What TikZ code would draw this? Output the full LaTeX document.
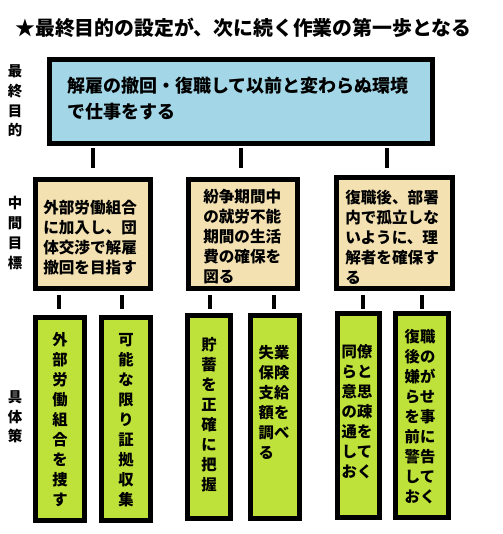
\documentclass[tikz,border=0pt]{standalone}
\usepackage{fontspec}
\setmainfont{Noto Sans CJK JP}
\definecolor{topc}{RGB}{163,215,232}
\definecolor{midc}{RGB}{243,225,178}
\definecolor{lowc}{RGB}{190,226,58}
\begin{document}
\begin{tikzpicture}[x=0.75pt,y=-0.75pt,
  box/.style={draw=black,line width=3.75pt,inner sep=0pt},
  topbox/.style={box,fill=topc,minimum width=287.25pt,minimum height=63pt},
  midbox/.style={box,fill=midc,minimum height=81.75pt},
  lowbox/.style={box,fill=lowc,minimum height=152.25pt},
  stub/.style={line width=3pt},
  ttl/.style={inner sep=0pt,anchor=west,font=\fontsize{14.9pt}{17pt}\selectfont\bfseries},
  toptxt/.style={inner sep=0pt,anchor=west,align=left,font=\fontsize{13.5pt}{19.5pt}\selectfont\bfseries},
  midtxt/.style={inner sep=0pt,anchor=west,align=left,font=\fontsize{11.7pt}{15pt}\selectfont\bfseries},
  lowtxt/.style={inner sep=0pt,align=center,font=\fontsize{11.5pt}{15pt}\selectfont\bfseries},
  side/.style={inner sep=0pt,align=center,font=\fontsize{10.8pt}{14.8pt}\selectfont\bfseries}
]
\useasboundingbox[fill=white] (0,0) rectangle (502,534);

\node[ttl] (title) at (15,28) {★最終目的の設定が、次に続く作業の第一歩となる};

% side labels
\node[side] (l1) at (15,101) {最\\終\\目\\的};
\node[side] (l2) at (15,233) {中\\間\\目\\標};
\node[side] (l3) at (15,417) {具\\体\\策};

% top box
\node[topbox] (top) at (241,101.5) {};
\node[toptxt] (toptext) at (67,99) {解雇の撤回・復職して以前と変わらぬ環境\\で仕事をする};

% middle boxes
\node[midbox,minimum width=86.25pt] (m1) at (93,234) {};
\node[midbox,minimum width=81.75pt] (m2) at (243,234) {};
\node[midbox,minimum width=87pt,minimum height=83.25pt] (m3) at (394.5,233) {};
\node[midtxt] (m1t) at (43,237.5) {外部労働組合\\に加入し、団\\体交渉で解雇\\撤回を目指す};
\node[midtxt] (m2t) at (203,237) {紛争期間中\\の就労不能\\期間の生活\\費の確保を\\図る};
\node[midtxt] (m3t) at (345,237.5) {復職後、部署\\内で孤立しな\\いように、理\\解者を確保す\\る};

% lower boxes
\node[lowbox,minimum width=36.75pt] (b1) at (60,419) {};
\node[lowbox,minimum width=36.75pt] (b2) at (126,419) {};
\node[lowbox,minimum width=32.25pt] (b3) at (209,417) {};
\node[lowbox,minimum width=36.75pt] (b4) at (275,417) {};
\node[lowbox,minimum width=31.5pt,minimum height=153pt] (b5) at (358.5,415.5) {};
\node[lowbox,minimum width=39.75pt,minimum height=153pt] (b6) at (422,415.5) {};
\node[lowtxt] (b1t) at (60,420) {外\\部\\労\\働\\組\\合\\を\\捜\\す};
\node[lowtxt] (b2t) at (126,420) {可\\能\\な\\限\\り\\証\\拠\\収\\集};
\node[lowtxt] (b3t) at (209,415) {貯\\蓄\\を\\正\\確\\に\\把\\握};
\node[lowtxt] (b4t) at (274,402) {失業\\保険\\支給\\額を\\調べ\\る\hphantom{る}};
\node[lowtxt] (b5t) at (357,412) {同僚\\らと\\意思\\の疎\\通を\\して\\おく};
\node[lowtxt] (b6t) at (420,417) {復職\\後の\\嫌が\\らせ\\を事\\前に\\警告\\して\\おく};

% stubs top -> middle
\coordinate (s1a) at (93,148);  \coordinate (s1b) at (93,168);
\coordinate (s2a) at (241,148); \coordinate (s2b) at (241,168);
\coordinate (s3a) at (387,148); \coordinate (s3b) at (387,168);
\draw[stub] (s1a) -- (s1b);
\draw[stub] (s2a) -- (s2b);
\draw[stub] (s3a) -- (s3b);

% stubs middle -> lower
\foreach \n/\xx in {4/59,5/122,6/210,7/274,8/363,9/422}{
  \coordinate (s\n a) at (\xx,295);
  \coordinate (s\n b) at (\xx,309);
  \draw[stub] (s\n a) -- (s\n b);
}
\end{tikzpicture}
\end{document}
